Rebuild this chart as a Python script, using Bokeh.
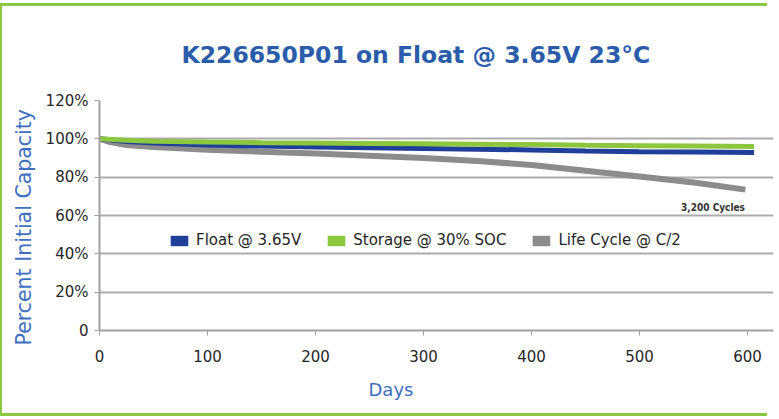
from bokeh.plotting import figure
from bokeh.models import (Legend, LegendItem, FixedTicker, Label, Title, ColumnDataSource)
from bokeh.embed import file_html
from bokeh.resources import INLINE

# ---- data ----
float_days = [0, 25, 50, 100, 150, 200, 250, 300, 350, 400, 450, 500, 550, 606]
float_pct = [100, 98.6, 97.8, 96.8, 96.2, 95.8, 95.4, 95.0, 94.6, 94.2, 93.6, 93.3, 93.1, 92.9]
storage_days = [0, 25, 50, 100, 150, 200, 250, 300, 350, 400, 450, 500, 550, 606]
storage_pct = [100, 99.2, 98.8, 98.3, 98.0, 97.8, 97.6, 97.4, 97.2, 97.0, 96.6, 96.4, 96.2, 96.0]
cycle_days = [0, 10, 25, 50, 100, 150, 200, 250, 300, 350, 400, 450, 500, 550, 598]
cycle_pct = [100, 98.3, 96.8, 95.7, 94.3, 93.3, 92.3, 91.2, 90.0, 88.4, 86.4, 83.4, 80.4, 77.2, 73.5]

series_names = ["Float @ 3.65V", "Storage @ 30% SOC", "Life Cycle @ C/2"]
series_colors = ["#1F3F99", "#8DC63F", "#8C8C8C"]
y_ticks = [0, 20, 40, 60, 80, 100, 120]
y_tick_labels = ["0", "20%", "40%", "60%", "80%", "100%", "120%"]
x_ticks = [0, 100, 200, 300, 400, 500, 600]
annotation_text = "3,200 Cycles"
annotation_pos = (568, 64)

FONT = "DejaVu Sans"
BLUE_TXT = "#3F6FC0"
G = "#8DC63F"

p = figure(width=777, height=407, output_backend="svg", toolbar_location=None,
           x_range=(0, 624), y_range=(0, 120),
           min_border_left=97, min_border_right=6, min_border_top=94, min_border_bottom=83)
# page frame: green rules drawn outside the plot element (none on the right)
p.styles = {"margin-left": "2px", "margin-top": "6px",
            "box-shadow": f"-2px 0 0 0 {G}, -12px -3px 0 0 {G}, -12px 3px 0 0 {G}"}
p.outline_line_color = None
p.background_fill_color = "white"
p.border_fill_color = "white"

# title
p.title.text = "K226650P01 on Float @ 3.65V 23\u00b0C"
p.title.text_font = FONT
p.title.text_font_size = "23.5px"
p.title.text_font_style = "bold"
p.title.text_color = "#2A5CAA"
p.title.align = "left"
p.title.offset = 82
p.title.standoff = 64

# grid
p.xgrid.grid_line_color = None
p.ygrid.grid_line_color = "#ABABAB"
p.ygrid.grid_line_width = 2
p.ygrid.ticker = FixedTicker(ticks=y_ticks)

# y axis
p.yaxis.ticker = FixedTicker(ticks=y_ticks)
p.yaxis.major_label_overrides = {t: l for t, l in zip(y_ticks, y_tick_labels)}
p.yaxis.major_label_text_font = FONT
p.yaxis.major_label_text_font_size = "15px"
p.yaxis.major_label_text_color = "#262626"
p.yaxis.axis_line_color = "#A0A0A0"
p.yaxis.axis_line_width = 2
p.yaxis.major_tick_line_color = "#A0A0A0"
p.yaxis.major_tick_out = 5
p.yaxis.major_tick_in = 0
p.yaxis.minor_tick_line_color = None
p.yaxis.major_label_standoff = 6

yt = Title(text="Percent Initial Capacity", text_font=FONT, text_font_size="20.5px",
           text_font_style="normal", text_color=BLUE_TXT, align="left", offset=-15,
           vertical_align="top", standoff=9)
p.add_layout(yt, "left")

# x axis
p.xaxis.ticker = FixedTicker(ticks=x_ticks)
p.xaxis.major_label_text_font = FONT
p.xaxis.major_label_text_font_size = "15px"
p.xaxis.major_label_text_color = "#262626"
p.xaxis.axis_line_color = "#A0A0A0"
p.xaxis.axis_line_width = 2
p.xaxis.major_tick_line_color = "#A0A0A0"
p.xaxis.major_tick_out = 5
p.xaxis.major_tick_in = 0
p.xaxis.minor_tick_line_color = None
p.xaxis.major_label_standoff = 14

xt = Title(text="Days", text_font=FONT, text_font_size="18px", text_font_style="normal",
           text_color=BLUE_TXT, align="left", offset=269, standoff=25)
p.add_layout(xt, "below")

# lines
p.line(cycle_days, cycle_pct, line_color=series_colors[2], line_width=6)
p.line(float_days, float_pct, line_color=series_colors[0], line_width=5)
p.line(storage_days, storage_pct, line_color=series_colors[1], line_width=5)

# legend swatches (quads with no drawable geometry)
nan = float("nan")
items = []
for name, col in zip(series_names, series_colors):
    src = ColumnDataSource(data=dict(l=[nan], r=[nan], t=[nan], b=[nan]))
    r = p.quad(left="l", right="r", top="t", bottom="b", source=src,
               fill_color=col, line_color=None)
    items.append(LegendItem(label=name, renderers=[r]))

legend = Legend(items=items, orientation="horizontal", location=(69, 81),
                background_fill_alpha=0, border_line_color=None,
                padding=0, margin=0, spacing=24, label_standoff=6,
                glyph_width=22, glyph_height=13, label_height=13,
                label_text_font=FONT, label_text_font_size="15px",
                label_text_color="#262626")
p.add_layout(legend, "center")

p.add_layout(Label(x=annotation_pos[0], y=annotation_pos[1], text=annotation_text,
                   text_font="DejaVu Sans Condensed", text_font_size="10px",
                   text_font_style="bold", text_color="#333333",
                   text_align="center", text_baseline="middle"))

open("out.html", "w").write(file_html(p, INLINE))
